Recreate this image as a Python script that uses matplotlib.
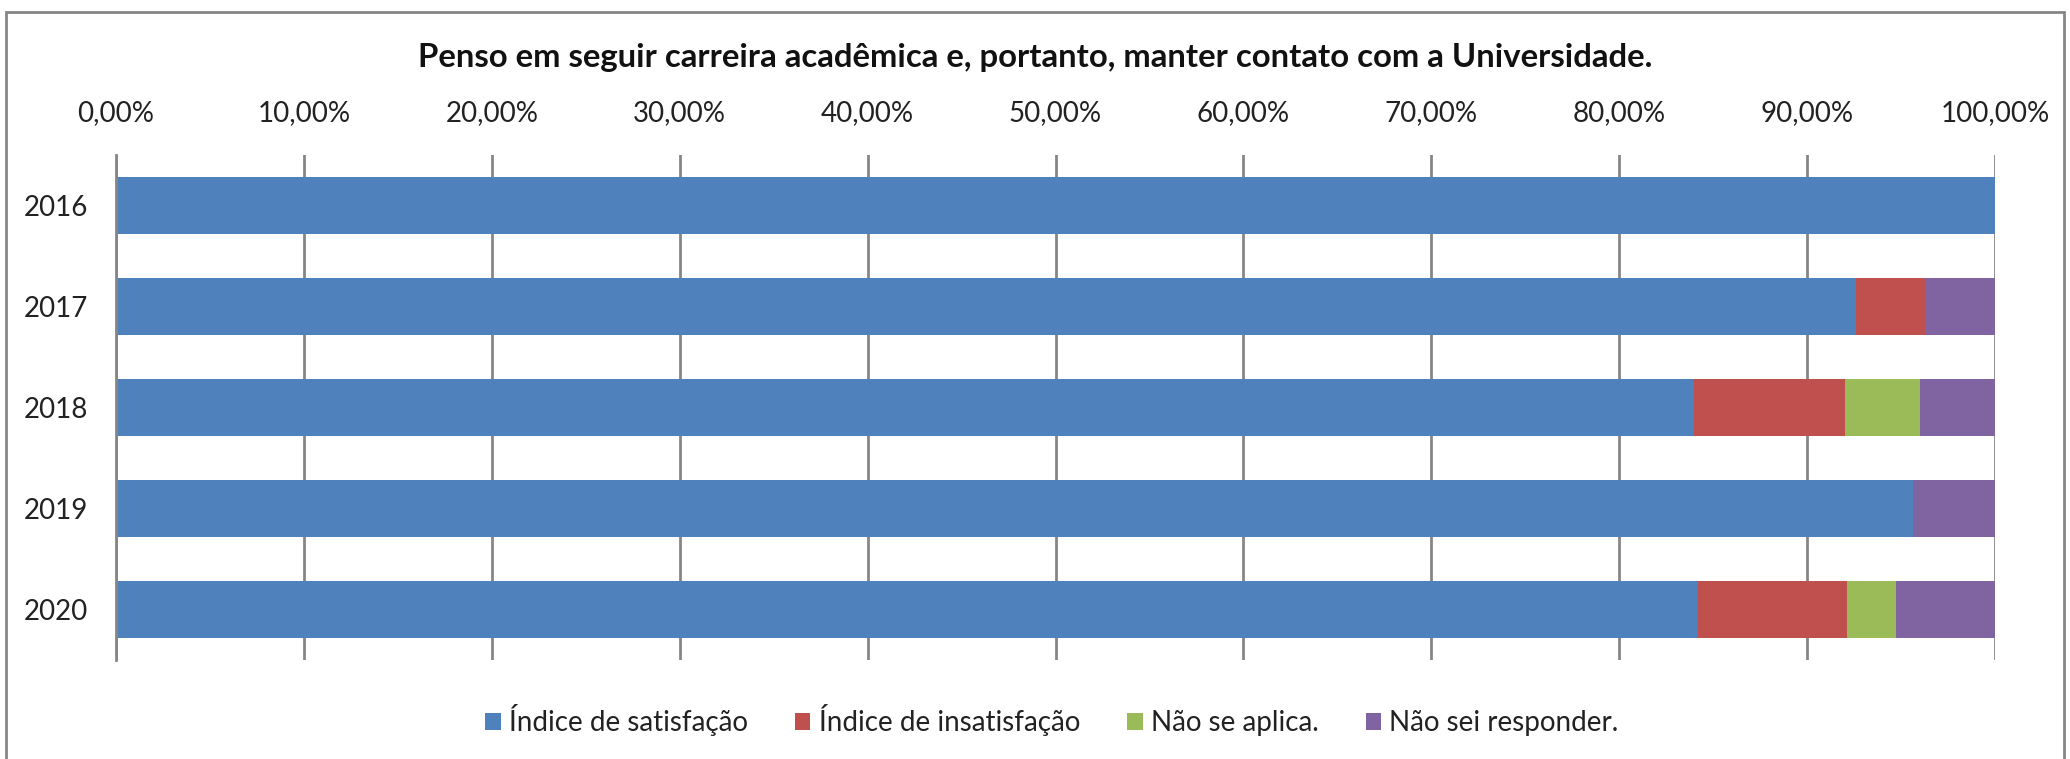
import matplotlib
matplotlib.use("Agg")
import matplotlib.pyplot as plt
from matplotlib.patches import Rectangle
import numpy as np

plt.rcParams['font.family'] = ['Lato', 'DejaVu Sans']

years = ["2016", "2017", "2018", "2019", "2020"]
series_names = ["Índice de satisfação", "Índice de insatisfação", "Não se aplica.", "Não sei responder."]
satisfacao = [100.0, 92.59, 84.0, 95.65, 84.21]
insatisfacao = [0.0, 3.70, 8.0, 0.0, 7.89]
nao_aplica = [0.0, 0.0, 4.0, 0.0, 2.63]
nao_sei = [0.0, 3.71, 4.0, 4.35, 5.27]
colors = ["#4F81BD", "#C0504D", "#9BBB59", "#8064A2"]
xticks = [0, 10, 20, 30, 40, 50, 60, 70, 80, 90, 100]
xtick_labels = ["0,00%", "10,00%", "20,00%", "30,00%", "40,00%", "50,00%",
                "60,00%", "70,00%", "80,00%", "90,00%", "100,00%"]
title = "Penso em seguir carreira acadêmica e, portanto, manter contato com a Universidade."

W, H = 2070, 759
fig = plt.figure(figsize=(W / 100, H / 100), dpi=100)
ax = fig.add_axes([116 / W, 1 - 660 / H, (1995 - 116) / W, (660 - 155) / H])

y = np.arange(len(years))
left = np.zeros(len(years))
for vals, name, c in zip([satisfacao, insatisfacao, nao_aplica, nao_sei], series_names, colors):
    ax.barh(y, vals, left=left, height=0.565, color=c, label=name, zorder=3)
    left = left + np.array(vals)

ax.set_xlim(0, 100)
ax.set_ylim(len(years) - 0.5, -0.5)
ax.set_yticks(y)
ax.set_yticklabels(years, fontsize=20, color="#222222")
ax.set_xticks(xticks)
ax.set_xticklabels(xtick_labels, fontsize=20, color="#222222")
ax.xaxis.tick_top()
ax.tick_params(axis='x', length=0, pad=21)
ax.tick_params(axis='y', length=0, pad=20)
ax.grid(axis='x', color="#868686", linewidth=2, zorder=0)
for s in ["top", "right", "bottom"]:
    ax.spines[s].set_visible(False)
ax.spines["left"].set_color("#868686")
ax.spines["left"].set_linewidth(2)
ax.spines["left"].set_zorder(4)

fig.text(1035 / W, 1 - 57 / H, title, ha="center", va="center", fontsize=23.7, fontweight="bold", color="#111111")

leg = fig.legend(loc="center", bbox_to_anchor=(1052 / W, 1 - 720 / H), ncol=4, frameon=False,
                 fontsize=20, handlelength=0.55, handleheight=0.55, handletextpad=0.3,
                 columnspacing=1.7, labelcolor="#222222")

fig.patches.append(Rectangle((6 / W, -0.05), (2064 - 6) / W, 1.05 - 12 / H, transform=fig.transFigure,
                             fill=False, edgecolor="#868686", linewidth=2, clip_on=False))

fig.savefig("out.png", dpi=100)
